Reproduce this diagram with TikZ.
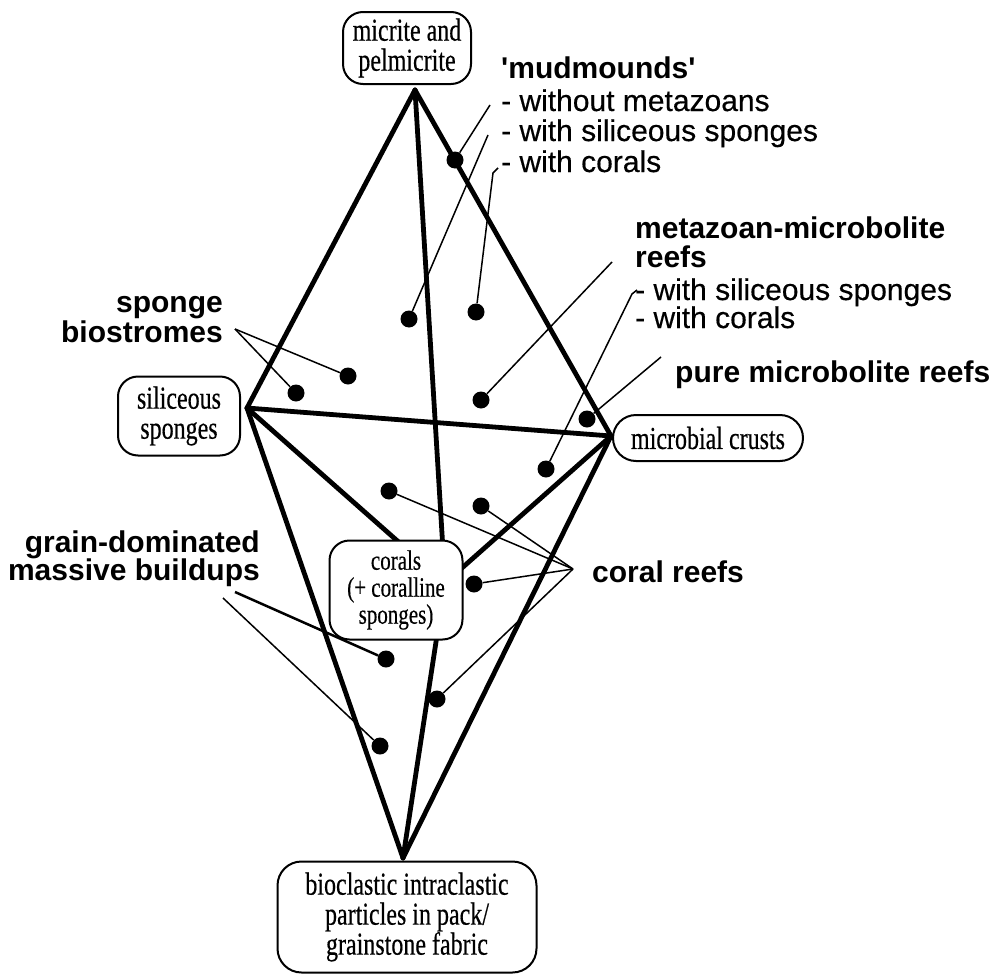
\documentclass[tikz,border=0pt]{standalone}
\usepackage{fontspec}
\setmainfont{Liberation Serif}
\newfontfamily\boxfont[FakeStretch=0.75,FakeBold=0.4]{Liberation Serif}
\newfontfamily\labfont{Liberation Sans}[FakeBold=0.4]
\newfontfamily\labbold{Liberation Sans Bold}
\begin{document}
\begin{tikzpicture}[x=1pt,y=-1pt,
  edge/.style={line width=4.8pt, line cap=round, line join=round},
  lead/.style={line width=1.5pt},
  leadm/.style={line width=2.5pt},
  dotn/.style={circle, fill=black, inner sep=0pt, minimum size=17pt},
  boxn/.style={draw, line width=2pt, rounded corners=20pt, fill=white, inner sep=0pt, align=center, font=\boxfont\fontsize{32}{30}\selectfont},
  lab/.style={inner sep=0pt, anchor=base west, font=\labfont\fontsize{30}{30}\selectfont},
  labr/.style={inner sep=0pt, anchor=base east, font=\labbold\fontsize{30}{30}\selectfont},
  bl/.style={inner sep=0pt, anchor=base west, font=\labbold\fontsize{30}{30}\selectfont}]
\useasboundingbox (0,0) rectangle (994,977);
% vertices
\coordinate (T) at (415,90);
\coordinate (L) at (247,408);
\coordinate (R) at (611,436);
\coordinate (B) at (403,858);
\coordinate (C) at (445,583);
% edges of the bipyramid
\draw[edge] (T) -- (L);
\draw[edge] (T) -- (R);
\draw[edge] (T) -- (C);
\draw[edge] (L) -- (R);
\draw[edge] (L) -- (C);
\draw[edge] (R) -- (C);
\draw[edge] (L) -- (B);
\draw[edge] (R) -- (B);
\draw[edge] (C) -- (B);
% boxes
\node[boxn, minimum width=128pt, minimum height=72pt] (micrite) at (407,48) {micrite and\\pelmicrite};
\node[boxn, minimum width=122pt, minimum height=79pt] (silic) at (179,416) {siliceous\\sponges};
\node[boxn, minimum width=190pt, minimum height=46pt, rounded corners=23pt] (microb) at (708,438) {microbial crusts};
\node[boxn, minimum width=133pt, minimum height=99pt, font=\boxfont\fontsize{28}{27}\selectfont] (corals) at (396,590) {corals\\(+ coralline\\sponges)};
\node[boxn, minimum width=259pt, minimum height=111pt, rounded corners=24pt] (biocl) at (407,917) {bioclastic intraclastic\\particles in pack/\\grainstone fabric};
% dots
\node[dotn] (d1) at (455,160) {};
\node[dotn] (d2) at (409,319) {};
\node[dotn] (d3) at (476,312) {};
\node[dotn] (d4) at (348,376) {};
\node[dotn] (d5) at (296,393) {};
\node[dotn] (d6) at (481,400) {};
\node[dotn] (d7) at (587,419) {};
\node[dotn] (d8) at (546,469) {};
\node[dotn] (d9) at (389,491) {};
\node[dotn] (d10) at (481,506) {};
\node[dotn] (d11) at (474,584) {};
\node[dotn] (d12) at (386,659) {};
\node[dotn] (d13) at (437,699) {};
\node[dotn] (d14) at (380,746) {};
% leader end points
\coordinate (m1) at (490,105);
\coordinate (m2) at (488,135);
\coordinate (m3) at (493,173);
\coordinate (m3h) at (498,168);
\coordinate (mz1) at (612,262);
\coordinate (mz2) at (632,294);
\coordinate (mz2h) at (637,290);
\coordinate (pu) at (661,357);
\coordinate (sb) at (235,329);
\coordinate (cr) at (573,569);
\coordinate (gd1) at (235,592);
\coordinate (gd2) at (223,598);
% leaders
\draw[lead] (d1) -- (m1);
\draw[lead] (d2) -- (m2);
\draw[lead] (d3) -- (m3) -- (m3h);
\draw[lead] (d6) -- (mz1);
\draw[lead] (d8) -- (mz2) -- (mz2h);
\draw[lead] (d7) -- (pu);
\draw[lead] (sb) -- (d5);
\draw[lead] (sb) -- (d4);
\draw[lead] (cr) -- (d9);
\draw[lead] (cr) -- (d10);
\draw[lead] (cr) -- (d11);
\draw[lead] (cr) -- (d13);
\draw[leadm] (gd1) -- (d12);
\draw[lead] (gd2) -- (d14);
% labels
\node[bl] (mm0) at (501,78) {\textquotesingle mudmounds\textquotesingle};
\node[lab] (mm1) at (501,111) {- without metazoans};
\node[lab] (mm2) at (501,141) {- with siliceous sponges};
\node[lab] (mm3) at (501,172) {- with corals};
\node[bl] (mz0) at (635,238) {metazoan-microbolite};
\node[bl] (mz1t) at (635,267) {reefs};
\node[lab] (mz2t) at (635,300) {- with siliceous sponges};
\node[lab] (mz3t) at (635,328) {- with corals};
\node[bl] (pmr) at (675,382) {pure microbolite reefs};
\node[labr] (sp1) at (223,312) {sponge};
\node[labr] (sp2) at (223,342) {biostromes};
\node[labr] (gr1) at (260,552) {grain-dominated};
\node[labr] (gr2) at (260,580) {massive buildups};
\node[bl] (crf) at (592,582) {coral reefs};
\end{tikzpicture}
\end{document}
